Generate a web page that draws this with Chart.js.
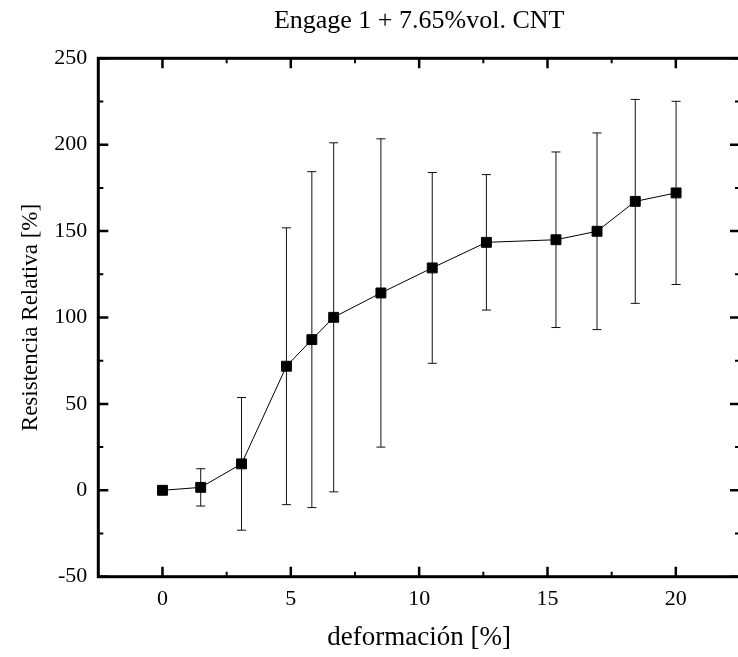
<!DOCTYPE html>
<html>
<head>
<meta charset="utf-8">
<script src="https://cdn.jsdelivr.net/npm/chart.js@4/dist/chart.umd.min.js"></script>
<style>
html, body { margin: 0; padding: 0; background: #fff; overflow: hidden; }
#wrap { position: relative; width: 740px; height: 657px; }
</style>
</head>
<body>
<div id="wrap"><canvas id="c"></canvas></div>
<script>
// ---- data ----
const deformacion = [0, 1.49, 3.08, 4.83, 5.82, 6.67, 8.51, 10.51, 12.62, 15.33, 16.93, 18.42, 20.01];
const resistencia = [0, 1.7, 15.3, 71.8, 87.2, 100.1, 114.2, 128.7, 143.5, 145.0, 149.9, 167.2, 172.1];
const errorBar    = [0, 10.8, 38.4, 80.1, 97.2, 101.0, 89.2, 55.2, 39.2, 50.8, 56.9, 59.0, 53.0];

const xMajorTicks = [0, 5, 10, 15, 20];
const xMinorTicks = [2.5, 7.5, 12.5, 17.5];
const yMajorTicks = [-50, 0, 50, 100, 150, 200, 250];
const yMinorTicks = [-25, 25, 75, 125, 175, 225];

const titleText = 'Engage 1 + 7.65%vol. CNT';
const xTitle = 'deformación [%]';
const yTitle = 'Resistencia Relativa [%]';

const FONT = "'Liberation Serif', 'Times New Roman', serif";

const points = deformacion.map((x, i) => ({ x: x, y: resistencia[i] }));

const errorBarPlugin = {
  id: 'errorBars',
  beforeDatasetsDraw(chart) {
    const ctx = chart.ctx;
    const xs = chart.scales.x, ys = chart.scales.y;
    ctx.save();
    ctx.strokeStyle = '#111';
    ctx.lineWidth = 1;
    const cap = 4.5;
    deformacion.forEach((x, i) => {
      const e = errorBar[i];
      if (!e) return;
      const px = xs.getPixelForValue(x);
      const pTop = ys.getPixelForValue(resistencia[i] + e);
      const pBot = ys.getPixelForValue(resistencia[i] - e);
      ctx.beginPath();
      ctx.moveTo(px, pTop); ctx.lineTo(px, pBot);
      ctx.moveTo(px - cap, pTop); ctx.lineTo(px + cap, pTop);
      ctx.moveTo(px - cap, pBot); ctx.lineTo(px + cap, pBot);
      ctx.stroke();
    });
    ctx.restore();
  }
};

const framePlugin = {
  id: 'frame',
  afterDatasetsDraw(chart) {
    const ctx = chart.ctx;
    const a = chart.chartArea;
    const xs = chart.scales.x, ys = chart.scales.y;
    ctx.save();
    ctx.strokeStyle = '#000';
    const major = 10, minor = 5;
    ctx.lineWidth = 2.5;
    ctx.beginPath();
    xMajorTicks.forEach(v => {
      const p = xs.getPixelForValue(v);
      ctx.moveTo(p, a.bottom); ctx.lineTo(p, a.bottom - major);
      ctx.moveTo(p, a.top); ctx.lineTo(p, a.top + major);
    });
    yMajorTicks.forEach(v => {
      const p = ys.getPixelForValue(v);
      ctx.moveTo(a.left, p); ctx.lineTo(a.left + major, p);
      ctx.moveTo(a.right, p); ctx.lineTo(a.right - major, p);
    });
    ctx.stroke();
    ctx.lineWidth = 2;
    ctx.beginPath();
    xMinorTicks.forEach(v => {
      const p = xs.getPixelForValue(v);
      ctx.moveTo(p, a.bottom); ctx.lineTo(p, a.bottom - minor);
      ctx.moveTo(p, a.top); ctx.lineTo(p, a.top + minor);
    });
    yMinorTicks.forEach(v => {
      const p = ys.getPixelForValue(v);
      ctx.moveTo(a.left, p); ctx.lineTo(a.left + minor, p);
      ctx.moveTo(a.right, p); ctx.lineTo(a.right - minor, p);
    });
    ctx.stroke();
    ctx.lineWidth = 3;
    ctx.strokeRect(a.left, a.top, a.right - a.left, a.bottom - a.top);
    ctx.restore();
  }
};

new Chart(document.getElementById('c'), {
  type: 'scatter',
  data: {
    datasets: [{
      data: points,
      showLine: true,
      borderColor: '#000',
      borderWidth: 1,
      backgroundColor: '#000',
      pointStyle: 'rect',
      pointRadius: 7,
      pointBorderWidth: 1,
      pointBorderColor: '#000',
      pointBackgroundColor: '#000',
      tension: 0
    }]
  },
  options: {
    responsive: true,
    maintainAspectRatio: false,
    animation: false,
    layout: { padding: 0, autoPadding: false },
    plugins: {
      legend: { display: false },
      tooltip: { enabled: false },
      title: {
        display: true,
        fullSize: false,
        text: titleText,
        color: '#000',
        font: { family: FONT, size: 26, weight: 'normal', lineHeight: 1.2 },
        padding: { top: 5.6, bottom: 21.5 }
      }
    },
    scales: {
      x: {
        type: 'linear',
        min: -2.5,
        max: 22.5,
        grid: { display: false, drawTicks: false },
        border: { display: false },
        afterBuildTicks(scale) { scale.ticks = xMajorTicks.map(v => ({ value: v })); },
        afterFit(scale) { scale.height = 80.3; },
        ticks: {
          color: '#000',
          padding: 9.4,
          maxRotation: 0,
          font: { family: FONT, size: 22 },
          callback: v => String(v)
        },
        title: {
          display: true,
          text: xTitle,
          color: '#000',
          font: { family: FONT, size: 27, lineHeight: 1.2 },
          padding: { top: 0, bottom: 3.2 }
        }
      },
      y: {
        type: 'linear',
        min: -50,
        max: 250,
        grid: { display: false, drawTicks: false },
        border: { display: false },
        afterBuildTicks(scale) { scale.ticks = yMajorTicks.map(v => ({ value: v })); },
        afterFit(scale) { scale.width = 98.3; },
        ticks: {
          color: '#000',
          padding: 11,
          font: { family: FONT, size: 22 },
          callback: v => String(v)
        },
        title: {
          display: true,
          text: yTitle,
          color: '#000',
          font: { family: FONT, size: 23, lineHeight: 1.2 },
          padding: { top: 17.5, bottom: 0 }
        }
      }
    }
  },
  plugins: [errorBarPlugin, framePlugin]
});
</script>
</body>
</html>
